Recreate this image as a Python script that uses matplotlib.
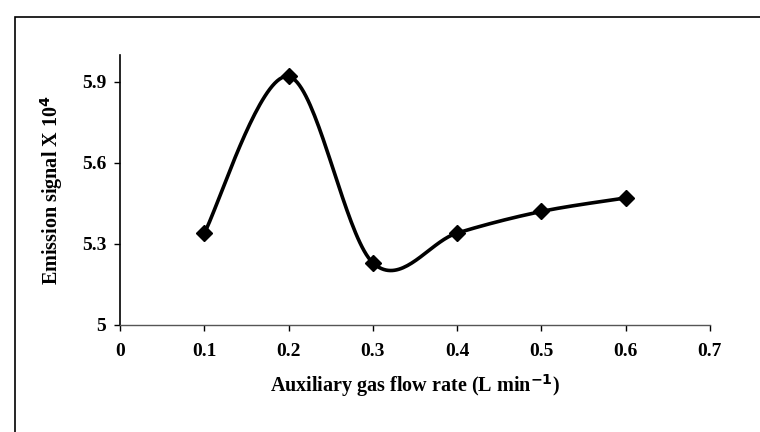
import numpy as np
import matplotlib.pyplot as plt
from matplotlib.patches import Rectangle

# Data
flow_rate = [0.1, 0.2, 0.3, 0.4, 0.5, 0.6]
emission = [5.34, 5.92, 5.23, 5.34, 5.42, 5.47]

x_ticks = [0, 0.1, 0.2, 0.3, 0.4, 0.5, 0.6, 0.7]
y_ticks = [5, 5.3, 5.6, 5.9]


def smooth_line(xs, ys, n=40):
    # Catmull-Rom style smoothing like spreadsheet "smoothed line"
    xs = np.asarray(xs, float)
    ys = np.asarray(ys, float)
    px = np.concatenate([[xs[0]], xs, [xs[-1]]])
    py = np.concatenate([[ys[0]], ys, [ys[-1]]])
    out_x, out_y = [], []
    t = np.linspace(0, 1, n)
    for i in range(1, len(px) - 2):
        p0, p1, p2, p3 = [np.array([px[j], py[j]]) for j in (i - 1, i, i + 1, i + 2)]
        c1 = p1 + (p2 - p0) / 6
        c2 = p2 - (p3 - p1) / 6
        pts = ((1 - t) ** 3)[:, None] * p1 + (3 * (1 - t) ** 2 * t)[:, None] * c1 \
            + (3 * (1 - t) * t ** 2)[:, None] * c2 + (t ** 3)[:, None] * p2
        out_x.extend(pts[:, 0])
        out_y.extend(pts[:, 1])
    return out_x, out_y


plt.rcParams['font.family'] = ['Liberation Serif', 'DejaVu Serif']
plt.rcParams['font.weight'] = 'bold'

fig = plt.figure(figsize=(7.6, 4.32), dpi=100)
ax = fig.add_axes([0.158, 0.248, 0.776, 0.625])

sx, sy = smooth_line(flow_rate, emission)
ax.plot(sx, sy, color='black', linewidth=2.6)
ax.plot(flow_rate, emission, linestyle='none', marker='D', markersize=8.5,
        color='black')

ax.set_xlim(0, 0.7)
ax.set_ylim(5, 6.0)
ax.set_xticks(x_ticks)
ax.set_xticklabels([f"{v:g}" for v in x_ticks])
ax.set_yticks(y_ticks)
ax.set_yticklabels([f"{v:g}" for v in y_ticks])

for side in ['top', 'right']:
    ax.spines[side].set_visible(False)
ax.spines['left'].set_linewidth(1.2)
ax.spines['bottom'].set_linewidth(1.0)
ax.spines['bottom'].set_color('#555555')
ax.tick_params(axis='both', labelsize=14, direction='out', length=4, width=1)
ax.tick_params(axis='x', pad=9)
ax.tick_params(axis='y', pad=6)

ax.set_xlabel("Auxiliary gas flow rate (L min$^{\\mathbf{-1}}$)", fontsize=14.5,
              fontweight='bold', labelpad=9)
ax.set_ylabel("Emission signal X 10$^{\\mathbf{4}}$", fontsize=14.5,
              fontweight='bold', labelpad=12)

# outer frame of the original figure
fig.patches.append(Rectangle((15 / 760, -0.1), 1.2, 1 - 17 / 432 + 0.1,
                             transform=fig.transFigure, fill=False,
                             edgecolor='black', linewidth=1.2))

fig.savefig("out.png", dpi=100)
